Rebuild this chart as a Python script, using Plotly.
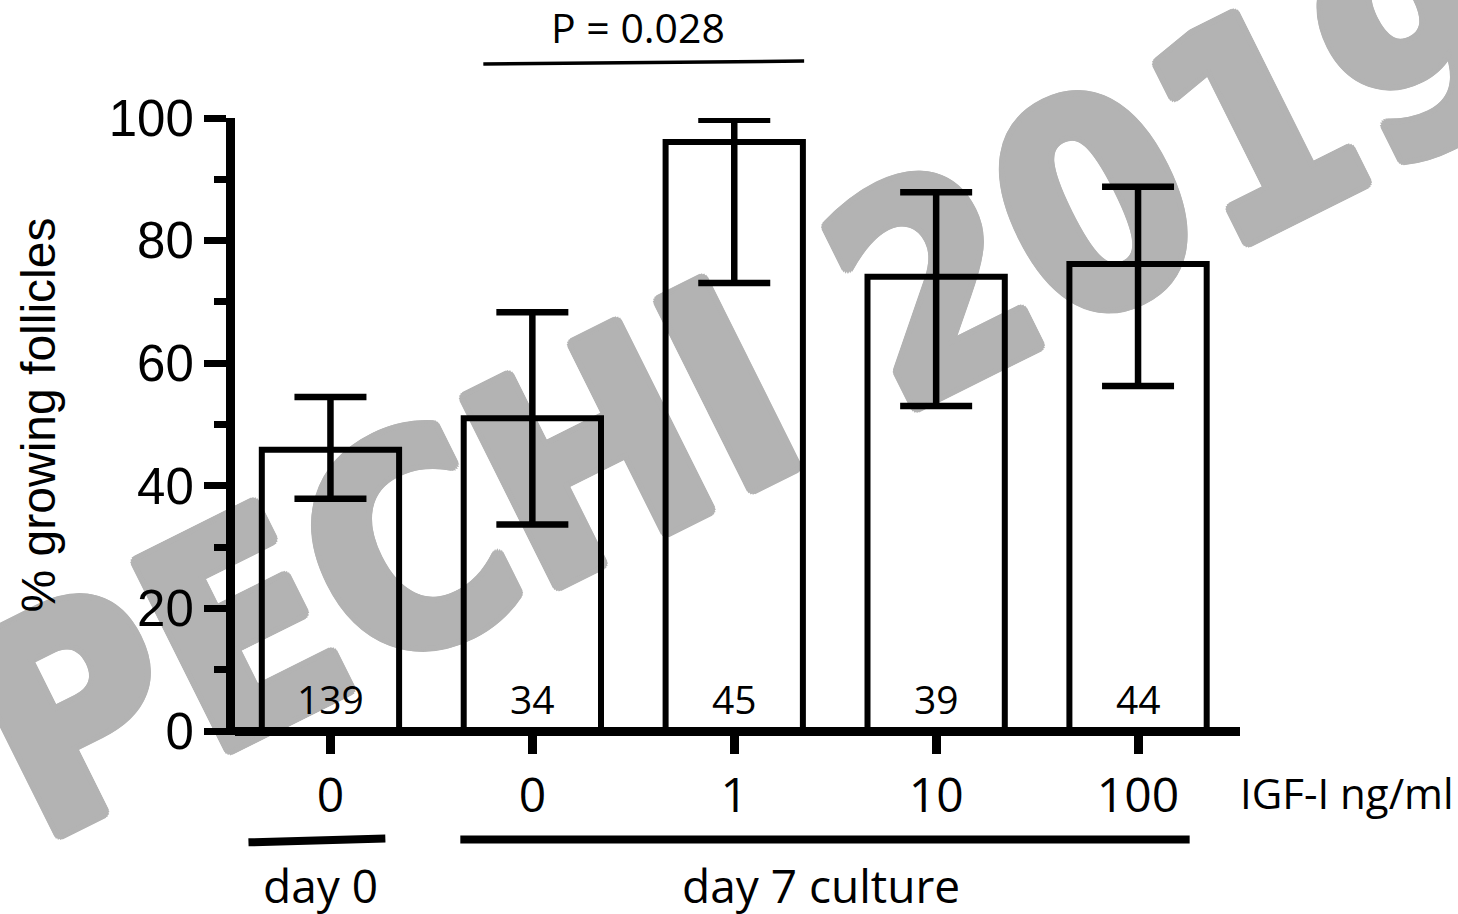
import math
import plotly.graph_objects as go

# IGF-I dose groups (x tick labels) and follicle counts per group
igf_doses = ["0", "0", "1", "10", "100"]
n_follicles = [139, 34, 45, 39, 44]

# % growing follicles with lower / upper interval bounds
pct_growing = [45.9, 51.0, 96.1, 74.1, 76.2]
ci_upper = [54.5, 68.3, 99.7, 87.9, 88.8]
ci_lower = [37.9, 33.7, 73.1, 53.0, 56.3]

y_ticks = [0, 20, 40, 60, 80, 100]

x_pos = list(range(len(igf_doses)))
err_plus = [u - v for u, v in zip(ci_upper, pct_growing)]
err_minus = [v - l for v, l in zip(pct_growing, ci_lower)]

fig = go.Figure()
fig.add_bar(
    x=x_pos,
    y=pct_growing,
    width=0.68,
    marker=dict(color="rgba(0,0,0,0)", line=dict(color="black", width=6)),
    error_y=dict(type="data", symmetric=False, array=err_plus, arrayminus=err_minus,
                 color="black", thickness=6.5, width=36),
    hoverinfo="skip",
)

annotations = []
# group sizes printed at the foot of each bar
for xi, n in zip(x_pos, n_follicles):
    annotations.append(dict(x=xi, y=0, xref="x", yref="y", text=str(n), showarrow=False,
                            yanchor="middle", yshift=33,
                            font=dict(family="Open Sans", size=39, color="black")))

txt = dict(family="Open Sans", color="black")
annotations += [
    dict(x=0.998, y=-0.093, xref="paper", yref="paper", text="IGF-I ng/ml", showarrow=False,
         xanchor="left", yanchor="middle", font=dict(txt, size=42)),
    dict(x=0.085, y=-0.243, xref="paper", yref="paper", text="day 0", showarrow=False,
         xanchor="center", yanchor="middle", font=dict(txt, size=46)),
    dict(x=0.583, y=-0.243, xref="paper", yref="paper", text="day 7 culture", showarrow=False,
         xanchor="center", yanchor="middle", font=dict(txt, size=46)),
    dict(x=0.401, y=1.147, xref="paper", yref="paper", text="P = 0.028", showarrow=False,
         xanchor="center", yanchor="middle", font=dict(txt, size=41)),
    dict(x=-0.1954, y=0.519, xref="paper", yref="paper", text="% growing follicles",
         showarrow=False, textangle=-90, xanchor="center", yanchor="middle",
         font=dict(family="Liberation Sans", size=48, color="black")),
]

# watermark: heavy grey lettering, thickened with a ring of text shadows
wm_grey = "#b3b3b3"
wm_shadow = ", ".join(
    f"{6 * math.cos(a):.2f}px {6 * math.sin(a):.2f}px 0 {wm_grey}"
    for a in [i * math.pi / 8 for i in range(16)]
)

shapes = [
    # group brackets under the axis
    dict(type="line", xref="paper", yref="paper", x0=0.0134, x1=0.1496, y0=-0.174, y1=-0.1676,
         line=dict(color="black", width=8)),
    dict(type="line", xref="paper", yref="paper", x0=0.2242, x1=0.9499, y0=-0.1692, y1=-0.1692,
         line=dict(color="black", width=8)),
    # significance bar
    dict(type="line", xref="paper", yref="paper", x0=0.2471, x1=0.5663, y0=1.0874, y1=1.0923,
         line=dict(color="black", width=3.5)),
    # watermark behind everything
    dict(type="rect", xref="paper", yref="paper", x0=0.4897, x1=0.5097, y0=0.5949, y1=0.6149,
         line=dict(width=0), fillcolor="rgba(0,0,0,0)", layer="below",
         label=dict(text="<b>PECHI 2019</b>", textangle=-26.5, textposition="middle center",
                    font=dict(family="DejaVu Sans Condensed, DejaVu Sans", size=288,
                              color=wm_grey, shadow=wm_shadow))),
]

fig.update_layout(
    width=1458, height=914, autosize=False,
    margin=dict(l=234.5, r=218, t=118, b=178.5, pad=0),
    paper_bgcolor="white", plot_bgcolor="rgba(0,0,0,0)",
    showlegend=False,
    annotations=annotations,
    shapes=shapes,
    xaxis=dict(range=[-0.4728, 4.505], tickvals=x_pos, ticktext=igf_doses,
               ticks="outside", ticklen=18, tickwidth=9, tickcolor="black",
               showline=False, zeroline=False, showgrid=False,
               tickfont=dict(family="Open Sans", size=48, color="black")),
    yaxis=dict(range=[-0.652, 100], tickvals=y_ticks,
               ticks="outside", ticklen=22, tickwidth=7, tickcolor="black",
               showline=True, linewidth=9, linecolor="black",
               zeroline=True, zerolinewidth=9, zerolinecolor="black",
               showgrid=False,
               minor=dict(dtick=10, tick0=0, ticks="outside", ticklen=12, tickwidth=7,
                          tickcolor="black", showgrid=False),
               tickfont=dict(family="Liberation Sans", size=51, color="black")),
)

fig.write_html("out.html")
